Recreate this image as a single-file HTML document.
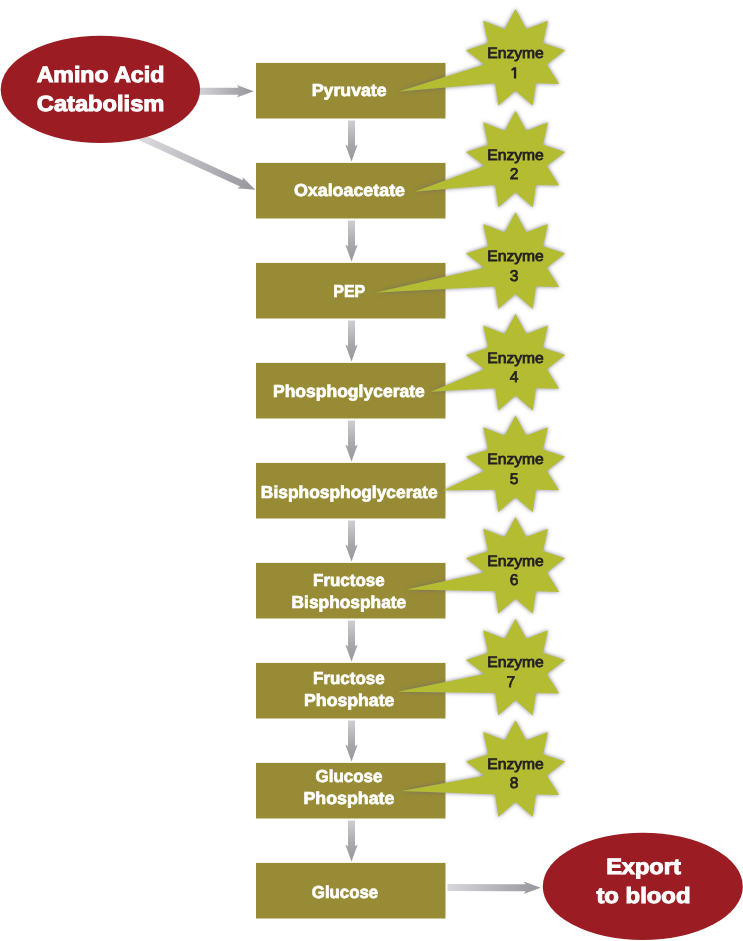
<!DOCTYPE html>
<html><head><meta charset="utf-8"><style>
html,body{margin:0;padding:0;background:#fff;width:743px;height:941px;overflow:hidden}
svg{display:block;will-change:transform}
text{font-family:"Liberation Sans",sans-serif;font-weight:bold;text-rendering:geometricPrecision}
</style></head><body>
<svg width="743" height="941" viewBox="0 0 743 941">
<defs>
<linearGradient id="gv" x1="0" y1="0" x2="0" y2="1"><stop offset="0" stop-color="#CFCFD3"/><stop offset="0.55" stop-color="#A9A9AE"/><stop offset="1" stop-color="#96969C"/></linearGradient>
<linearGradient id="gh" x1="0" y1="0" x2="1" y2="0"><stop offset="0" stop-color="#D8D8DC"/><stop offset="0.7" stop-color="#A8A8AE"/><stop offset="1" stop-color="#96969C"/></linearGradient>
<linearGradient id="gd" gradientUnits="userSpaceOnUse" x1="147" y1="139" x2="255" y2="189"><stop offset="0" stop-color="#D8D8DC"/><stop offset="0.7" stop-color="#A8A8AE"/><stop offset="1" stop-color="#96969C"/></linearGradient>
<filter id="sh" x="-30%" y="-30%" width="160%" height="160%">
<feGaussianBlur in="SourceAlpha" stdDeviation="2.2" result="b"/>
<feFlood flood-color="#66617A" flood-opacity="0.8"/>
<feComposite in2="b" operator="in" result="s"/>
<feMerge><feMergeNode in="s"/><feMergeNode in="SourceGraphic"/></feMerge>
</filter>
</defs>

<path d="M348.00,120.50 L348.00,146.30 L345.30,144.50 L351.50,161.50 L357.70,144.50 L355.00,146.30 L355.00,120.50 Z" fill="url(#gv)"/>
<path d="M348.00,220.50 L348.00,246.30 L345.30,244.50 L351.50,261.50 L357.70,244.50 L355.00,246.30 L355.00,220.50 Z" fill="url(#gv)"/>
<path d="M348.00,320.50 L348.00,346.30 L345.30,344.50 L351.50,361.50 L357.70,344.50 L355.00,346.30 L355.00,320.50 Z" fill="url(#gv)"/>
<path d="M348.00,420.50 L348.00,446.30 L345.30,444.50 L351.50,461.50 L357.70,444.50 L355.00,446.30 L355.00,420.50 Z" fill="url(#gv)"/>
<path d="M348.00,520.50 L348.00,546.30 L345.30,544.50 L351.50,561.50 L357.70,544.50 L355.00,546.30 L355.00,520.50 Z" fill="url(#gv)"/>
<path d="M348.00,620.50 L348.00,646.30 L345.30,644.50 L351.50,661.50 L357.70,644.50 L355.00,646.30 L355.00,620.50 Z" fill="url(#gv)"/>
<path d="M348.00,720.50 L348.00,746.30 L345.30,744.50 L351.50,761.50 L357.70,744.50 L355.00,746.30 L355.00,720.50 Z" fill="url(#gv)"/>
<path d="M348.00,820.50 L348.00,846.30 L345.30,844.50 L351.50,861.50 L357.70,844.50 L355.00,846.30 L355.00,820.50 Z" fill="url(#gv)"/>
<path d="M195.00,94.75 L238.60,94.71 L236.81,97.41 L253.80,91.20 L236.79,85.01 L238.60,87.71 L195.00,87.75 Z" fill="url(#gh)"/>
<path d="M138.58,139.89 L240.07,186.45 L237.26,188.25 L255.30,189.70 L242.43,176.98 L242.90,180.27 L141.42,133.71 Z" fill="url(#gd)"/>
<path d="M447.39,891.00 L525.49,891.25 L523.68,893.95 L540.70,887.80 L523.72,881.55 L525.51,884.25 L447.41,884.00 Z" fill="url(#gh)"/>
<ellipse cx="100.4" cy="89.4" rx="99.7" ry="53.7" fill="#9B1D23"/>
<ellipse cx="642.8" cy="886.4" rx="100" ry="53.7" fill="#9B1D23"/>
<rect x="256.00" y="62.90" width="189.50" height="55.60" fill="#978B35"/>
<rect x="256.00" y="162.90" width="189.50" height="55.60" fill="#978B35"/>
<rect x="256.00" y="262.90" width="189.50" height="55.60" fill="#978B35"/>
<rect x="256.00" y="362.90" width="189.50" height="55.60" fill="#978B35"/>
<rect x="256.00" y="462.90" width="189.50" height="55.60" fill="#978B35"/>
<rect x="256.00" y="562.90" width="189.50" height="55.60" fill="#978B35"/>
<rect x="256.00" y="662.90" width="189.50" height="55.60" fill="#978B35"/>
<rect x="256.00" y="762.90" width="189.50" height="55.60" fill="#978B35"/>
<rect x="256.00" y="862.90" width="189.50" height="55.60" fill="#978B35"/>
<text x="311.77" y="96.30" font-size="17.3" fill="#fff" stroke="#fff" stroke-width="0.7" textLength="74.85" lengthAdjust="spacingAndGlyphs">Pyruvate</text>
<text x="293.93" y="196.40" font-size="17.3" fill="#fff" stroke="#fff" stroke-width="0.7" textLength="111.09" lengthAdjust="spacingAndGlyphs">Oxaloacetate</text>
<text x="333.28" y="296.60" font-size="17.3" fill="#fff" stroke="#fff" stroke-width="0.7" textLength="31.97" lengthAdjust="spacingAndGlyphs">PEP</text>
<text x="272.99" y="396.60" font-size="17.3" fill="#fff" stroke="#fff" stroke-width="0.7" textLength="151.78" lengthAdjust="spacingAndGlyphs">Phosphoglycerate</text>
<text x="260.89" y="497.60" font-size="17.3" fill="#fff" stroke="#fff" stroke-width="0.7" textLength="176.69" lengthAdjust="spacingAndGlyphs">Bisphosphoglycerate</text>
<text x="313.12" y="585.80" font-size="17.3" fill="#fff" stroke="#fff" stroke-width="0.7" textLength="71.45" lengthAdjust="spacingAndGlyphs">Fructose</text>
<text x="291.60" y="607.80" font-size="17.3" fill="#fff" stroke="#fff" stroke-width="0.7" textLength="114.62" lengthAdjust="spacingAndGlyphs">Bisphosphate</text>
<text x="313.12" y="683.70" font-size="17.3" fill="#fff" stroke="#fff" stroke-width="0.7" textLength="71.45" lengthAdjust="spacingAndGlyphs">Fructose</text>
<text x="304.08" y="705.90" font-size="17.3" fill="#fff" stroke="#fff" stroke-width="0.7" textLength="90.33" lengthAdjust="spacingAndGlyphs">Phosphate</text>
<text x="315.56" y="781.50" font-size="17.3" fill="#fff" stroke="#fff" stroke-width="0.7" textLength="66.88" lengthAdjust="spacingAndGlyphs">Glucose</text>
<text x="303.47" y="803.50" font-size="17.3" fill="#fff" stroke="#fff" stroke-width="0.7" textLength="90.94" lengthAdjust="spacingAndGlyphs">Phosphate</text>
<text x="311.87" y="897.50" font-size="17.3" fill="#fff" stroke="#fff" stroke-width="0.7" textLength="66.27" lengthAdjust="spacingAndGlyphs">Glucose</text>
<text x="36.67" y="81.50" font-size="22.0" fill="#fff" stroke="#fff" stroke-width="1.0" textLength="127.62" lengthAdjust="spacingAndGlyphs">Amino Acid</text>
<text x="36.79" y="110.90" font-size="22.0" fill="#fff" stroke="#fff" stroke-width="1.0" textLength="127.65" lengthAdjust="spacingAndGlyphs">Catabolism</text>
<text x="606.16" y="873.60" font-size="22.0" fill="#fff" stroke="#fff" stroke-width="1.0" textLength="74.64" lengthAdjust="spacingAndGlyphs">Export</text>
<text x="596.43" y="902.70" font-size="22.0" fill="#fff" stroke="#fff" stroke-width="1.0" textLength="94.10" lengthAdjust="spacingAndGlyphs">to blood</text>
<path d="M515.55,9.07 L526.43,29.09 L547.95,20.74 L543.09,43.07 L565.18,50.30 L546.87,64.49 L559.20,83.92 L535.99,83.33 L532.79,105.86 L515.55,90.77 L498.31,105.86 L495.11,83.33 L398.90,91.50 L484.23,64.49 L465.92,50.30 L488.01,43.07 L483.15,20.74 L504.67,29.09 Z" fill="#B4BD32" filter="url(#sh)"/>
<path d="M515.55,110.67 L526.43,130.69 L547.95,122.34 L543.09,144.67 L565.18,151.90 L546.87,166.09 L559.20,185.52 L535.99,184.93 L532.79,207.46 L515.55,192.37 L498.31,207.46 L495.11,184.93 L415.20,191.50 L484.23,166.09 L465.92,151.90 L488.01,144.67 L483.15,122.34 L504.67,130.69 Z" fill="#B4BD32" filter="url(#sh)"/>
<path d="M515.55,212.27 L526.43,232.29 L547.95,223.94 L543.09,246.27 L565.18,253.50 L546.87,267.69 L559.20,287.12 L535.99,286.53 L532.79,309.06 L515.55,293.97 L498.31,309.06 L495.11,286.53 L375.90,292.60 L484.23,267.69 L465.92,253.50 L488.01,246.27 L483.15,223.94 L504.67,232.29 Z" fill="#B4BD32" filter="url(#sh)"/>
<path d="M515.55,313.87 L526.43,333.89 L547.95,325.54 L543.09,347.87 L565.18,355.10 L546.87,369.29 L559.20,388.72 L535.99,388.13 L532.79,410.66 L515.55,395.57 L498.31,410.66 L495.11,388.13 L430.70,391.80 L484.23,369.29 L465.92,355.10 L488.01,347.87 L483.15,325.54 L504.67,333.89 Z" fill="#B4BD32" filter="url(#sh)"/>
<path d="M515.55,415.47 L526.43,435.49 L547.95,427.14 L543.09,449.47 L565.18,456.70 L546.87,470.89 L559.20,490.32 L535.99,489.73 L532.79,512.26 L515.55,497.17 L498.31,512.26 L495.11,489.73 L442.60,490.60 L484.23,470.89 L465.92,456.70 L488.01,449.47 L483.15,427.14 L504.67,435.49 Z" fill="#B4BD32" filter="url(#sh)"/>
<path d="M515.55,517.07 L526.43,537.09 L547.95,528.74 L543.09,551.07 L565.18,558.30 L546.87,572.49 L559.20,591.92 L535.99,591.33 L532.79,613.86 L515.55,598.77 L498.31,613.86 L495.11,591.33 L406.50,589.40 L484.23,572.49 L465.92,558.30 L488.01,551.07 L483.15,528.74 L504.67,537.09 Z" fill="#B4BD32" filter="url(#sh)"/>
<path d="M515.55,618.67 L526.43,638.69 L547.95,630.34 L543.09,652.67 L565.18,659.90 L546.87,674.09 L559.20,693.52 L535.99,692.93 L532.79,715.46 L515.55,700.37 L498.31,715.46 L495.11,692.93 L397.50,691.80 L484.23,674.09 L465.92,659.90 L488.01,652.67 L483.15,630.34 L504.67,638.69 Z" fill="#B4BD32" filter="url(#sh)"/>
<path d="M515.55,720.27 L526.43,740.29 L547.95,731.94 L543.09,754.27 L565.18,761.50 L546.87,775.69 L559.20,795.12 L535.99,794.53 L532.79,817.06 L515.55,801.97 L498.31,817.06 L495.11,794.53 L402.00,791.00 L484.23,775.69 L465.92,761.50 L488.01,754.27 L483.15,731.94 L504.67,740.29 Z" fill="#B4BD32" filter="url(#sh)"/>
<text x="487.26" y="58.40" font-size="15.0" style="font-weight:normal" fill="#231F20" stroke="#231F20" stroke-width="0.8" textLength="56.56" lengthAdjust="spacingAndGlyphs">Enzyme</text>
<path d="M513.8,67.30 L516.2,67.30 L516.2,78.60 L513.9,78.60 L513.9,69.80 L511.7,71.00 L511.3,69.30 Z" fill="#231F20"/>
<text x="487.26" y="159.90" font-size="15.0" style="font-weight:normal" fill="#231F20" stroke="#231F20" stroke-width="0.8" textLength="56.56" lengthAdjust="spacingAndGlyphs">Enzyme</text>
<text x="514.20" y="179.35" font-size="15.6" style="font-weight:normal" fill="#231F20" stroke="#231F20" stroke-width="0.75" text-anchor="middle">2</text>
<text x="487.26" y="261.40" font-size="15.0" style="font-weight:normal" fill="#231F20" stroke="#231F20" stroke-width="0.8" textLength="56.56" lengthAdjust="spacingAndGlyphs">Enzyme</text>
<text x="514.20" y="280.85" font-size="15.6" style="font-weight:normal" fill="#231F20" stroke="#231F20" stroke-width="0.75" text-anchor="middle">3</text>
<text x="487.26" y="362.90" font-size="15.0" style="font-weight:normal" fill="#231F20" stroke="#231F20" stroke-width="0.8" textLength="56.56" lengthAdjust="spacingAndGlyphs">Enzyme</text>
<text x="514.20" y="382.35" font-size="15.6" style="font-weight:normal" fill="#231F20" stroke="#231F20" stroke-width="0.75" text-anchor="middle">4</text>
<text x="487.26" y="464.40" font-size="15.0" style="font-weight:normal" fill="#231F20" stroke="#231F20" stroke-width="0.8" textLength="56.56" lengthAdjust="spacingAndGlyphs">Enzyme</text>
<text x="514.20" y="483.85" font-size="15.6" style="font-weight:normal" fill="#231F20" stroke="#231F20" stroke-width="0.75" text-anchor="middle">5</text>
<text x="487.26" y="565.90" font-size="15.0" style="font-weight:normal" fill="#231F20" stroke="#231F20" stroke-width="0.8" textLength="56.56" lengthAdjust="spacingAndGlyphs">Enzyme</text>
<text x="514.20" y="585.35" font-size="15.6" style="font-weight:normal" fill="#231F20" stroke="#231F20" stroke-width="0.75" text-anchor="middle">6</text>
<text x="487.26" y="667.40" font-size="15.0" style="font-weight:normal" fill="#231F20" stroke="#231F20" stroke-width="0.8" textLength="56.56" lengthAdjust="spacingAndGlyphs">Enzyme</text>
<text x="510.80" y="686.85" font-size="15.6" style="font-weight:normal" fill="#231F20" stroke="#231F20" stroke-width="0.75" text-anchor="middle">7</text>
<text x="487.26" y="768.90" font-size="15.0" style="font-weight:normal" fill="#231F20" stroke="#231F20" stroke-width="0.8" textLength="56.56" lengthAdjust="spacingAndGlyphs">Enzyme</text>
<text x="514.20" y="788.35" font-size="15.6" style="font-weight:normal" fill="#231F20" stroke="#231F20" stroke-width="0.75" text-anchor="middle">8</text>
</svg>
</body></html>
